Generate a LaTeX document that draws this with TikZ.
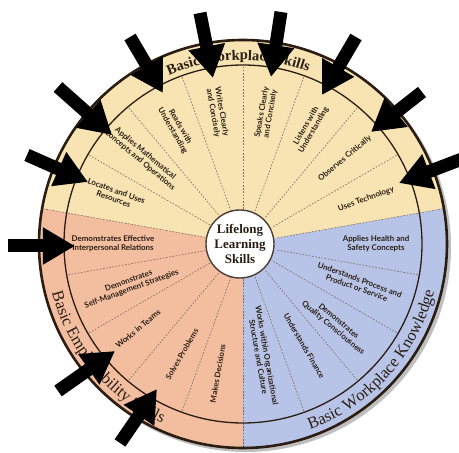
\documentclass[tikz,border=0pt]{standalone}
\usepackage{fontspec}
\usepackage{tikz}
\usetikzlibrary{arrows.meta}
\usetikzlibrary{decorations.text}
\newfontfamily\ringfont{Liberation Serif}
\newfontfamily\skillfont{Lato}
\definecolor{wheelyellow}{HTML}{F8E3B3}
\definecolor{wheelsalmon}{HTML}{F3BEA0}
\definecolor{wheelblue}{HTML}{B7C4E8}
\definecolor{wheelrim}{HTML}{2B1D12}
\definecolor{wheeltext}{HTML}{2A1E14}
\definecolor{wheeldash}{HTML}{7A6858}
\tikzset{
  skill/.style={font=\skillfont\bfseries\fontsize{7.9}{8.6}\selectfont,text=wheeltext,align=center,inner sep=0pt},
  divider/.style={draw=wheeldash,line width=0.6pt,dash pattern=on 1.6pt off 1.6pt},
  pointer/.style={line width=13pt,-{Triangle[length=32pt,width=35pt]}},
  ringtext/.style={decorate,decoration={text along path,text align=center,text={#1}}}
}

\begin{document}
\begin{tikzpicture}[x=1pt,y=1pt]
  \useasboundingbox (-243,-209) rectangle (216,244);
  %wheel
  \fill[black!25] (3,-3) circle[radius=205];
  \fill[wheelyellow] (0,0) -- (10:204) arc[start angle=10,end angle=170,radius=204] -- cycle;
  \fill[wheelsalmon] (0,0) -- (170:204) arc[start angle=170,end angle=270,radius=204] -- cycle;
  \fill[wheelblue] (0,0) -- (270:204) arc[start angle=270,end angle=370,radius=204] -- cycle;
  \foreach \a in {30,50,...,150,190,210,230,250,290,310,330,350}
    \draw[divider] (\a:35) -- (\a:179);
  \foreach \a in {10,170,270}
    \draw[divider] (\a:35) -- (\a:204);
  \draw[wheelrim,line width=1.3pt] (0,0) circle[radius=179];
  \draw[wheelrim,line width=2.6pt] (0,0) circle[radius=204];
  %ring
  \path[ringtext={|\ringfont\bfseries\fontsize{14.5}{14.5}\selectfont\color{wheeltext}|Basic Workplace Skills}] (136.5:184) arc[start angle=136.5,end angle=46.5,radius=184];
  \path[ringtext={|\ringfont\fontsize{16.5}{16.5}\selectfont\color{wheeltext}|Basic Employability Skills}] (180:197) arc[start angle=180,end angle=260,radius=197];
  \path[ringtext={|\ringfont\fontsize{16.5}{16.5}\selectfont\color{wheeltext}|Basic Workplace Knowledge}] (278:197) arc[start angle=278,end angle=358,radius=197];
  %hub
  \node[circle,name=hub,at={(-3,0)},draw=wheelrim!85,line width=1.4pt,fill=white,minimum size=68pt,inner sep=0pt]{};
  \node[name=hublabel,at=(hub.center),align=center,text=wheeltext,font=\ringfont\bfseries\fontsize{13}{15}\selectfont]{Lifelong\\Learning\\Skills};

  %top
  \node[skill,name=tech,at={(20:131)},rotate=20]{Uses Technology};
  \node[skill,name=observe,at={(40:133)},rotate=40]{Observes Critically};
  \node[skill,name=listen,at={(60:134)},rotate=60]{Listens with\\Understanding};
  \node[skill,name=speak,at={(80:133)},rotate=80]{Speaks Clearly\\and Concisely};
  \node[skill,name=write,at={(101:134)},rotate=-80]{Writes Clearly\\and Concisely};
  \node[skill,name=read,at={(120:133)},rotate=-60]{Reads with\\Understanding};
  \node[skill,name=math,at={(139:133)},rotate=-40]{Applies Mathematical\\Concepts and Operations};
  \node[skill,name=locate,at={(159:137)},rotate=-20]{Locates and Uses\\Resources};
  %left
  \node[skill,name=relate,at={(180:130)}]{Demonstrates Effective\\Interpersonal Relations};
  \node[skill,name=manage,at={(200:120)},rotate=20]{Demonstrates\\Self-Management Strategies};
  \node[skill,name=teams,at={(219:135)},rotate=40]{Works in Teams};
  \node[skill,name=solve,at={(241:126)},rotate=60]{Solves Problems};
  \node[skill,name=decide,at={(259:132)},rotate=80]{Makes Decisions};
  %right
  \node[skill,name=culture,at={(280:114)},rotate=-80]{Works within Organizational\\Structure and Culture};
  \node[skill,name=finance,at={(301:119)},rotate=-60]{Understands Finance};
  \node[skill,name=quality,at={(319:123)},rotate=-40]{Demonstrates\\Quality Consciousness};
  \node[skill,name=process,at={(341:122)},rotate=-20]{Understands Process and\\Product or Service};
  \node[skill,name=health,at={(0:133)}]{Applies Health and\\Safety Concepts};

  %arrows
  \coordinate[name=locatetail,at={(-216,89)}];   \coordinate[name=locatetip,at={(-155,62)}];
  \coordinate[name=mathtail,at={(-185,157)}];    \coordinate[name=mathtip,at={(-131,109)}];
  \coordinate[name=readtail,at={(-113,207)}];    \coordinate[name=readtip,at={(-80,151)}];
  \coordinate[name=writetail,at={(-43,231)}];    \coordinate[name=writetip,at={(-30,166)}];
  \coordinate[name=speaktail,at={(38,232)}];     \coordinate[name=speaktip,at={(28,167)}];
  \coordinate[name=listentail,at={(113,207)}];   \coordinate[name=listentip,at={(79,149)}];
  \coordinate[name=observetail,at={(179,152)}];  \coordinate[name=observetip,at={(128,112)}];
  \coordinate[name=techtail,at={(219,85)}];      \coordinate[name=techtip,at={(156,61)}];
  \coordinate[name=relatetail,at={(-235,-2)}];   \coordinate[name=relatetip,at={(-168,-2)}];
  \coordinate[name=teamstail,at={(-185,-147)}];  \coordinate[name=teamstip,at={(-128,-107)}];
  \coordinate[name=solvetail,at={(-123,-199)}];  \coordinate[name=solvetip,at={(-86,-145)}];
  \draw[pointer] (locatetail) -- (locatetip);
  \draw[pointer] (mathtail) -- (mathtip);
  \draw[pointer] (readtail) -- (readtip);
  \draw[pointer] (writetail) -- (writetip);
  \draw[pointer] (speaktail) -- (speaktip);
  \draw[pointer] (listentail) -- (listentip);
  \draw[pointer] (observetail) -- (observetip);
  \draw[pointer] (techtail) -- (techtip);
  \draw[pointer] (relatetail) -- (relatetip);
  \draw[pointer] (teamstail) -- (teamstip);
  \draw[pointer] (solvetail) -- (solvetip);
\end{tikzpicture}
\end{document}
